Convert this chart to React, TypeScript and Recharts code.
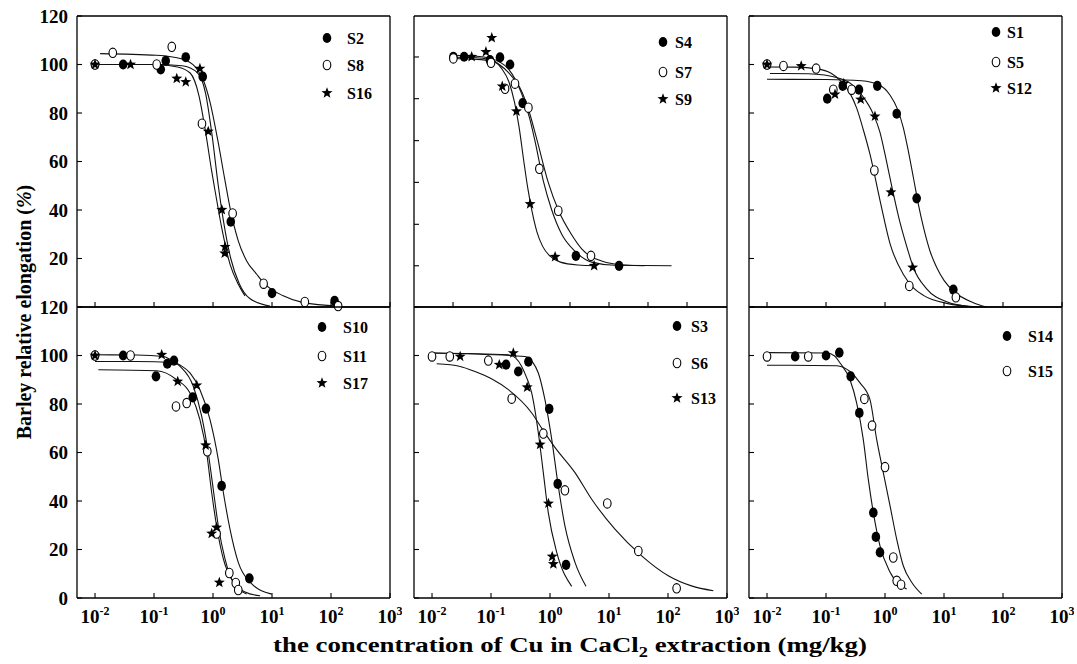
import React from 'react';
import { ComposedChart, Line, Scatter, XAxis, YAxis } from 'recharts';

type Pt = [number, number];
type Kind = 'filled' | 'open' | 'star';

// ---- measured points (x = Cu mg/kg, y = relative elongation %) ----
const S2: Pt[] = [[0.01, 100], [0.03, 100], [0.13, 98], [0.158, 101.5], [0.345, 103], [0.67, 95], [2.0, 35.2], [10, 5.7], [115, 2.5]];
const S8: Pt[] = [[0.01, 100], [0.02, 104.8], [0.111, 100], [0.2, 107.3], [0.65, 75.6], [2.15, 38.6], [7.2, 9.6], [36, 2.1], [132, 0.4]];
const S16: Pt[] = [[0.01, 100], [0.04, 100], [0.243, 94.2], [0.345, 92.8], [0.6, 98.3], [0.83, 72.4], [1.41, 40.1], [1.6, 24.8], [1.58, 22.1]];

const S4: Pt[] = [[0.023, 103.2], [0.035, 103.2], [0.096, 101.8], [0.142, 102.9], [0.21, 100], [0.344, 84.1], [2.75, 21.1], [14.8, 17]];
const S7: Pt[] = [[0.023, 102.5], [0.1, 100.7], [0.173, 90], [0.255, 92.1], [0.43, 82.2], [0.66, 57], [1.38, 39.7], [4.95, 21.1]];
const S9: Pt[] = [[0.047, 103.2], [0.082, 105.2], [0.103, 111], [0.155, 91], [0.27, 80.7], [0.46, 42.5], [1.22, 20.7], [5.6, 17]];

const S1: Pt[] = [[0.01, 100], [0.105, 85.9], [0.192, 91.2], [0.362, 89.6], [0.74, 91.2], [1.58, 79.7], [3.44, 44.8], [14.4, 7.2]];
const S5: Pt[] = [[0.01, 100], [0.019, 99.4], [0.068, 98.3], [0.133, 89.6], [0.272, 89.6], [0.66, 56.3], [2.58, 8.7], [15.9, 4]];
const S12: Pt[] = [[0.01, 100], [0.038, 99.4], [0.142, 87.7], [0.2, 92.1], [0.387, 85.6], [0.676, 78.6], [1.26, 47.3], [2.94, 16.3]];

const S10: Pt[] = [[0.01, 100], [0.03, 100], [0.108, 91.4], [0.168, 96.6], [0.218, 97.9], [0.453, 82.7], [0.76, 78.1], [1.4, 46.2], [4.13, 8.1]];
const S11: Pt[] = [[0.01, 100], [0.04, 100], [0.236, 79], [0.358, 80.4], [0.8, 60.5], [1.15, 26.6], [1.89, 10.3], [2.43, 6.2], [2.68, 3.3]];
const S17: Pt[] = [[0.01, 100], [0.135, 100.3], [0.252, 89.3], [0.53, 87.7], [0.75, 63], [1.15, 29.1], [0.95, 26.6], [1.28, 6.4]];

const S3: Pt[] = [[0.18, 96.2], [0.29, 93.4], [0.43, 97.5], [0.97, 78], [1.35, 47.1], [1.87, 13.7]];
const S6: Pt[] = [[0.01, 99.6], [0.02, 99.6], [0.09, 97.9], [0.224, 82.2], [0.77, 67.8], [1.79, 44.4], [9.35, 39], [31.4, 19.4], [140, 4]];
const S13: Pt[] = [[0.03, 99.6], [0.138, 96.2], [0.239, 101], [0.41, 86.9], [0.68, 63.3], [0.94, 39], [1.09, 17.1], [1.14, 14]];

const S14: Pt[] = [[0.03, 99.6], [0.1, 100], [0.168, 101.2], [0.262, 91.4], [0.367, 76.3], [0.634, 35.2], [0.7, 25.2], [0.822, 18.8]];
const S15: Pt[] = [[0.01, 99.6], [0.05, 99.6], [0.447, 82.1], [0.603, 71.1], [1.0, 54], [1.38, 16.7], [1.58, 7.1], [1.87, 5.5]];

// ---- fitted dose-response curves, traced vertices ----
const FIT_S8: Pt[] = [[0.0122, 104.5], [0.11, 103.8], [0.3, 102.3], [0.5, 99], [0.7, 93], [0.9, 84], [1.2, 69], [1.6, 52], [1.94, 41], [2.68, 27.3], [3.72, 19], [5.5, 13.5], [7.13, 10.1], [15.5, 4.6], [33.9, 1.8], [133, 0.4]];
const FIT_S2: Pt[] = [[0.01, 100], [0.1, 100], [0.3, 99.5], [0.55, 96.5], [0.75, 88], [0.95, 72], [1.23, 50], [1.5, 35.6], [2.0, 20], [2.8, 9.5], [4.2, 3.5], [9.25, 0.4]];
const FIT_S16: Pt[] = [[0.01, 100], [0.1, 100], [0.25, 99], [0.41, 96.5], [0.58, 87], [0.75, 72], [0.95, 56], [1.1, 47], [1.4, 32.8], [1.94, 17.7], [2.68, 9.4], [3.48, 4.6]];

const FIT_S4: Pt[] = [[0.023, 103.8], [0.05, 103.5], [0.1, 102.5], [0.2, 98], [0.33, 88], [0.45, 78], [0.55, 69], [0.77, 52], [1.07, 40], [1.58, 30], [2.65, 23], [5.1, 18.5], [12.6, 17.2], [115, 17]];
const FIT_S7: Pt[] = [[0.023, 102.5], [0.05, 102.2], [0.1, 101.5], [0.2, 96.5], [0.33, 89], [0.45, 80], [0.6, 69], [0.93, 51.5], [1.4, 39.7], [2.3, 30], [3.44, 24], [7.5, 19], [18.6, 17.3], [40, 17]];
const FIT_S9: Pt[] = [[0.023, 103], [0.05, 102.9], [0.1, 102], [0.15, 98.5], [0.2, 93], [0.25, 84.5], [0.3, 74], [0.36, 60], [0.42, 49], [0.5, 39], [0.6, 31], [0.75, 25], [1.0, 21], [1.5, 18.5], [3, 17.3], [5.8, 17]];

const FIT_S1: Pt[] = [[0.01, 93.9], [0.1, 93.8], [0.4, 93.3], [0.8, 91.5], [1.22, 87.3], [1.6, 82], [2.04, 74], [2.5, 64], [3.02, 53.5], [3.7, 42], [4.47, 33], [5.8, 23], [7.52, 16.3], [10, 11], [14.4, 6.6], [31.4, 1.8], [52.8, 0]];
const FIT_S5: Pt[] = [[0.01, 99], [0.03, 98.9], [0.07, 98.2], [0.12, 96.5], [0.173, 93.5], [0.25, 88.5], [0.331, 82], [0.43, 73], [0.556, 63], [0.822, 44], [1.22, 26], [2.04, 13.5], [3, 8], [4.47, 4.8], [11.1, 1.5], [40, 0]];
const FIT_S12: Pt[] = [[0.0112, 96.3], [0.05, 96.2], [0.173, 94.2], [0.3, 91], [0.428, 86.6], [0.62, 80], [0.822, 72], [1.0, 63], [1.22, 53], [1.79, 35], [2.4, 24], [3.02, 16.3], [5.08, 7.5], [11.1, 2.2], [31.4, 0]];

const FIT_S10: Pt[] = [[0.01, 97.5], [0.05, 97.5], [0.212, 97.1], [0.3, 95.5], [0.407, 92.8], [0.6, 85.9], [0.89, 73.6], [1.23, 57.1], [1.5, 43.4], [1.94, 28.4], [2.68, 14.7], [4.24, 6.5], [9.87, 1.6]];
const FIT_S11: Pt[] = [[0.0114, 94.1], [0.111, 93.7], [0.243, 90], [0.407, 84.5], [0.6, 73.6], [0.78, 59.9], [0.95, 43.4], [1.15, 29.7], [1.5, 16], [2.21, 6.5], [3.5, 2.5], [6.27, 0.9]];
const FIT_S17: Pt[] = [[0.01, 100.3], [0.05, 100.2], [0.144, 99.6], [0.2, 98], [0.276, 95.5], [0.463, 87.3], [0.643, 74.9], [0.83, 59.9], [1.01, 44.8], [1.23, 29.7], [1.6, 16], [2.21, 6.5], [3.72, 1.6]];

const FIT_S3: Pt[] = [[0.01, 101], [0.377, 99.6], [0.5, 97.5], [0.634, 92.8], [0.82, 81.8], [1.07, 65.4], [1.38, 46.2], [1.79, 29.7], [2.65, 14.7], [4.07, 4.8]];
const FIT_S6: Pt[] = [[0.012, 96.6], [0.03, 95.5], [0.0536, 93.4], [0.1, 90.5], [0.197, 85.9], [0.49, 76.3], [0.77, 69], [1.22, 62], [2.65, 51.7], [5.09, 40.7], [12.6, 28.4], [35.8, 17.4], [101, 9.2], [250, 5], [586, 3]];
const FIT_S13: Pt[] = [[0.01, 101], [0.197, 100.3], [0.26, 99], [0.331, 95.5], [0.4, 91], [0.49, 84.5], [0.634, 68.1], [0.77, 51.7], [0.935, 35.2], [1.3, 18.8], [2.33, 4.8]];

const FIT_S14: Pt[] = [[0.01, 101.2], [0.103, 101], [0.14, 99.8], [0.173, 96.9], [0.255, 90], [0.331, 80.4], [0.428, 65.4], [0.521, 48.9], [0.634, 35.2], [0.822, 21.5], [1.22, 10.6], [2.33, 3.7]];
const FIT_S15: Pt[] = [[0.01, 96], [0.152, 95.8], [0.255, 93.4], [0.377, 88.7], [0.556, 81.8], [0.722, 65.4], [0.935, 51.7], [1.22, 37.9], [1.58, 24.2], [2.04, 13.3], [2.83, 6.5], [4.19, 1.6]];

// ---- ticks ----
const DECADES = [0.01, 0.1, 1, 10, 100, 1000];
const TOP_DIV_TICKS = [0.0168, 0.057, 0.193, 0.656, 2.22, 7.55, 25.6, 86.9, 294];
const MID_X_TICKS = [0.0227, 0.104, 0.476, 2.18, 10, 45.8, 210];
const Y_TICKS = [0, 20, 40, 60, 80, 100, 120];
const MID_Y_TICKS = [17, 34.1, 51.4, 68.6, 85.9, 103.1];
const RIGHT_TICKS = [12, 24, 36, 48, 60, 72, 84, 96, 108];
const TOP_Y_LABELS = [20, 40, 60, 80, 100, 120];
const BOTTOM_Y_LABELS = [0, 20, 40, 60, 80, 100, 120];

const XMIN = 0.00495;
const XMAX = 1000;
const PLOT_W = 313;
const PLOT_H = 291;
// space reserved around each plot; the axes themselves take it up
const PAD = { top: 10, right: 12, bottom: 44, left: 62 };
const FONT = "'Liberation Serif', 'Times New Roman', serif";

interface Series { name: string; kind: Kind; pts: Pt[] }
interface PanelCfg {
  left: number;
  top: number;
  series: Series[];
  fits: Pt[][];
  bottomTicks: number[];
  topTicks: number[];
  leftTicks: number[];
  yLabels: number[];
  xLabels: boolean;
  legend: { mx: number; tx: number; rows: number[] };
}

const PANELS: PanelCfg[] = [
  {
    left: 77, top: 16,
    series: [{ name: 'S2', kind: 'filled', pts: S2 }, { name: 'S8', kind: 'open', pts: S8 }, { name: 'S16', kind: 'star', pts: S16 }],
    fits: [FIT_S8, FIT_S2, FIT_S16],
    bottomTicks: DECADES, topTicks: TOP_DIV_TICKS, leftTicks: Y_TICKS, yLabels: TOP_Y_LABELS, xLabels: false,
    legend: { mx: 250, tx: 270, rows: [22, 49, 77] },
  },
  {
    left: 414, top: 16,
    series: [{ name: 'S4', kind: 'filled', pts: S4 }, { name: 'S7', kind: 'open', pts: S7 }, { name: 'S9', kind: 'star', pts: S9 }],
    fits: [FIT_S4, FIT_S7, FIT_S9],
    bottomTicks: MID_X_TICKS, topTicks: MID_X_TICKS, leftTicks: MID_Y_TICKS, yLabels: [], xLabels: false,
    legend: { mx: 249, tx: 261, rows: [26, 56, 83] },
  },
  {
    left: 749, top: 16,
    series: [{ name: 'S1', kind: 'filled', pts: S1 }, { name: 'S5', kind: 'open', pts: S5 }, { name: 'S12', kind: 'star', pts: S12 }],
    fits: [FIT_S1, FIT_S5, FIT_S12],
    bottomTicks: DECADES, topTicks: TOP_DIV_TICKS, leftTicks: Y_TICKS, yLabels: [], xLabels: false,
    legend: { mx: 247, tx: 258, rows: [16, 46, 72] },
  },
  {
    left: 77, top: 307,
    series: [{ name: 'S10', kind: 'filled', pts: S10 }, { name: 'S11', kind: 'open', pts: S11 }, { name: 'S17', kind: 'star', pts: S17 }],
    fits: [FIT_S10, FIT_S11, FIT_S17],
    bottomTicks: DECADES, topTicks: [], leftTicks: Y_TICKS, yLabels: BOTTOM_Y_LABELS, xLabels: true,
    legend: { mx: 245, tx: 266, rows: [20, 49, 76] },
  },
  {
    left: 414, top: 307,
    series: [{ name: 'S3', kind: 'filled', pts: S3 }, { name: 'S6', kind: 'open', pts: S6 }, { name: 'S13', kind: 'star', pts: S13 }],
    fits: [FIT_S3, FIT_S6, FIT_S13],
    bottomTicks: DECADES, topTicks: [], leftTicks: Y_TICKS, yLabels: [], xLabels: true,
    legend: { mx: 263, tx: 277, rows: [19, 56, 91] },
  },
  {
    left: 749, top: 307,
    series: [{ name: 'S14', kind: 'filled', pts: S14 }, { name: 'S15', kind: 'open', pts: S15 }],
    fits: [FIT_S14, FIT_S15],
    bottomTicks: DECADES, topTicks: [], leftTicks: Y_TICKS, yLabels: [], xLabels: true,
    legend: { mx: 258, tx: 279, rows: [29, 64] },
  },
];

const toRows = (pts: Pt[]) => pts.map(([x, y]) => ({ x, y }));

function starPath(cx: number, cy: number, R: number, r: number) {
  let d = '';
  for (let i = 0; i < 10; i++) {
    const rad = i % 2 === 0 ? R : r;
    const a = -Math.PI / 2 + (i * Math.PI) / 5;
    d += (i === 0 ? 'M' : 'L') + (cx + rad * Math.cos(a)).toFixed(2) + ',' + (cy + rad * Math.sin(a)).toFixed(2);
  }
  return d + 'Z';
}

function Marker({ kind, cx, cy }: { kind: Kind; cx: number; cy: number }) {
  if (kind === 'star') return <path d={starPath(cx, cy, 5.8, 2.4)} fill="#000" />;
  if (kind === 'open') return <ellipse cx={cx} cy={cy} rx={3.8} ry={4.7} fill="#fff" stroke="#000" strokeWidth={1.1} />;
  return <ellipse cx={cx} cy={cy} rx={4.3} ry={5.1} fill="#000" />;
}

const border = { stroke: '#000', strokeWidth: 1.3 };
const NO_MARGIN = { top: 0, right: 0, bottom: 0, left: 0 };

function Panel({ cfg }: { cfg: PanelCfg }) {
  const bottomY = PAD.top + PLOT_H;
  const rightX = PAD.left + PLOT_W;
  return (
    <div style={{ position: 'absolute', left: cfg.left - PAD.left, top: cfg.top - PAD.top }}>
      <ComposedChart width={PLOT_W + PAD.left + PAD.right} height={PLOT_H + PAD.top + PAD.bottom} margin={NO_MARGIN}>
        <XAxis
          xAxisId="b" dataKey="x" type="number" scale="log" domain={[XMIN, XMAX]}
          ticks={cfg.bottomTicks} interval={0} height={PAD.bottom} tickSize={0} tickMargin={0}
          tickLine={false} axisLine={border}
          tick={(p: any) => {
            const exp = Math.round(Math.log10(p.payload.value));
            return (
              <g>
                <line x1={p.x} x2={p.x} y1={bottomY} y2={bottomY - 5} stroke="#000" strokeWidth={1.1} />
                {cfg.xLabels && (
                  <text x={p.x} y={bottomY + 25} textAnchor="middle" fontFamily={FONT} fontWeight="bold" fontSize={19} fill="#000">
                    10<tspan dy={-8} fontSize={12}>{exp}</tspan>
                  </text>
                )}
              </g>
            );
          }}
        />
        <XAxis
          xAxisId="t" orientation="top" dataKey="x" type="number" scale="log" domain={[XMIN, XMAX]}
          ticks={cfg.topTicks} interval={0} height={PAD.top} tickSize={0} tickMargin={0}
          tickLine={false} axisLine={border}
          tick={(p: any) => <line x1={p.x} x2={p.x} y1={PAD.top} y2={PAD.top + 5} stroke="#000" strokeWidth={1.1} />}
        />
        <YAxis
          yAxisId="l" dataKey="y" type="number" domain={[0, 120]}
          ticks={cfg.leftTicks} interval={0} width={PAD.left} tickSize={0} tickMargin={0}
          tickLine={false} axisLine={border}
          tick={(p: any) => (
            <g>
              <line x1={PAD.left} x2={PAD.left + 5} y1={p.y} y2={p.y} stroke="#000" strokeWidth={1.1} />
              {cfg.yLabels.includes(p.payload.value) && (
                <text x={PAD.left - 9} y={p.y + 6.5} textAnchor="end" fontFamily={FONT} fontWeight="bold" fontSize={19} fill="#000">
                  {p.payload.value}
                </text>
              )}
            </g>
          )}
        />
        <YAxis
          yAxisId="r" orientation="right" dataKey="y" type="number" domain={[0, 120]}
          ticks={RIGHT_TICKS} interval={0} width={PAD.right} tickSize={0} tickMargin={0}
          tickLine={false} axisLine={border}
          tick={(p: any) => <line x1={rightX} x2={rightX - 4} y1={p.y} y2={p.y} stroke="#000" strokeWidth={1.1} />}
        />
        {cfg.fits.map((f, i) => (
          <Line
            key={'fit' + i} xAxisId="b" yAxisId="l" data={toRows(f)} dataKey="y"
            type="monotone" dot={false} stroke="#111" strokeWidth={1.1} isAnimationActive={false}
          />
        ))}
        {cfg.series.map((s) => (
          <Scatter
            key={s.name} name={s.name} xAxisId="b" yAxisId="l" data={toRows(s.pts)} dataKey="y"
            isAnimationActive={false}
            shape={(p: any) => <Marker kind={s.kind} cx={p.cx} cy={p.cy} />}
          />
        ))}
      </ComposedChart>
    </div>
  );
}

function Overlay() {
  return (
    <svg width={1077} height={664} style={{ position: 'absolute', left: 0, top: 0, pointerEvents: 'none' }}>
      {PANELS.map((cfg, pi) =>
        cfg.series.map((s, i) => {
          const y = cfg.top + cfg.legend.rows[i];
          return (
            <g key={pi + s.name}>
              <Marker kind={s.kind} cx={cfg.left + cfg.legend.mx} cy={y} />
              <text x={cfg.left + cfg.legend.tx} y={y + 5.5} fontFamily={FONT} fontWeight="bold" fontSize={16} fill="#000">
                {s.name}
              </text>
            </g>
          );
        })
      )}
      <text transform="translate(31, 312) rotate(-90)" textAnchor="middle" fontFamily={FONT} fontWeight="bold" fontSize={20} fill="#000">
        Barley relative elongation (<tspan fontStyle="italic">%</tspan>)
      </text>
      <text transform="translate(570, 652) scale(1.22, 1)" textAnchor="middle" fontFamily={FONT} fontWeight="bold" fontSize={22} fill="#000">
        the concentration of Cu in CaCl<tspan dy={5} fontSize={15}>2</tspan>
        <tspan dy={-5}> extraction (mg/kg)</tspan>
      </text>
    </svg>
  );
}

export default function App() {
  return (
    <div style={{ position: 'absolute', left: 0, top: 0, width: 1077, height: 664, background: '#fff', overflow: 'hidden' }}>
      {PANELS.map((cfg, i) => (
        <Panel key={i} cfg={cfg} />
      ))}
      <Overlay />
    </div>
  );
}
